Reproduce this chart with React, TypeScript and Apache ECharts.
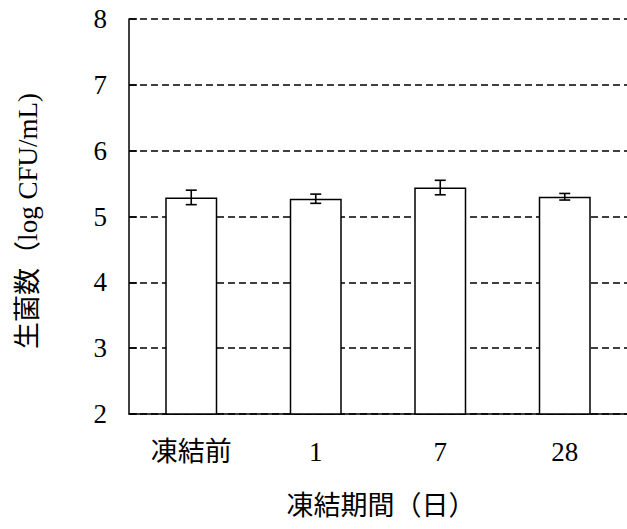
import React, { useEffect, useRef } from "react";
import * as echarts from "echarts";

// Viable count after freezing, by freezing period
const categories = ["凍結前", "1", "7", "28"];
const means = [5.29, 5.27, 5.44, 5.3];
const errors = [0.11, 0.07, 0.11, 0.05];

const yMin = 2;
const yMax = 8;
const yInterval = 1;

const xTitle = "凍結期間（日）";
const yTitle = "生菌数（log CFU/mL)";

const FONT = "'Liberation Serif', 'Noto Sans CJK JP', serif";
const FS = 27;

export default function App() {
  const ref = useRef<HTMLDivElement>(null);

  useEffect(() => {
    if (!ref.current) return;
    const chart = echarts.init(ref.current, null, { renderer: "svg" });

    const errData = means.map((m, i) => [i, m - errors[i], m + errors[i]]);

    chart.setOption({
      animation: false,
      backgroundColor: "#fff",
      textStyle: { fontFamily: FONT },
      grid: { left: 129, top: 19, width: 504, height: 395, containLabel: false },
      xAxis: {
        type: "category",
        data: categories,
        boundaryGap: true,
        axisLine: { lineStyle: { color: "#000", width: 1.5 } },
        axisTick: { inside: true, length: 8, lineStyle: { color: "#000", width: 1.5 } },
        axisLabel: { color: "#000", fontSize: FS, fontFamily: FONT, margin: 24 },
        splitLine: { show: false },
      },
      yAxis: {
        type: "value",
        min: yMin,
        max: yMax,
        interval: yInterval,
        axisLine: { show: true, lineStyle: { color: "#000", width: 1.5 } },
        axisTick: { show: true, inside: true, length: 8, lineStyle: { color: "#000", width: 1.5 } },
        axisLabel: { color: "#000", fontSize: FS, fontFamily: FONT, margin: 22 },
        splitLine: { show: true, lineStyle: { color: "#000", width: 1.5, type: [7, 4] } },
      },
      series: [
        {
          type: "bar",
          data: means,
          barWidth: 52,
          itemStyle: { color: "#fff", borderColor: "#000", borderWidth: 1.5 },
          z: 3,
        },
        {
          type: "custom",
          data: errData,
          z: 4,
          renderItem: (params: any, api: any) => {
            const i = api.value(0);
            const lo = api.coord([i, api.value(1)]);
            const hi = api.coord([i, api.value(2)]);
            const hw = 5.5;
            const style = { stroke: "#000", lineWidth: 1.6 };
            return {
              type: "group",
              children: [
                { type: "line", shape: { x1: hi[0], y1: hi[1], x2: lo[0], y2: lo[1] }, style },
                { type: "line", shape: { x1: hi[0] - hw, y1: hi[1], x2: hi[0] + hw, y2: hi[1] }, style },
                { type: "line", shape: { x1: lo[0] - hw, y1: lo[1], x2: lo[0] + hw, y2: lo[1] }, style },
              ],
            };
          },
        },
      ],
      graphic: [
        {
          type: "text",
          x: 381,
          y: 506,
          style: {
            text: xTitle,
            font: `${FS}px ${FONT}`,
            fill: "#000",
            align: "center",
            verticalAlign: "middle",
          },
        },
        {
          type: "text",
          x: 28,
          y: 221,
          rotation: Math.PI / 2,
          style: {
            text: yTitle,
            font: `${FS}px ${FONT}`,
            fill: "#000",
            align: "center",
            verticalAlign: "middle",
          },
        },
      ],
    });

    return () => chart.dispose();
  }, []);

  return (
    <div
      ref={ref}
      style={{ position: "fixed", left: 0, top: 0, width: 627, height: 529, background: "#fff" }}
    />
  );
}
